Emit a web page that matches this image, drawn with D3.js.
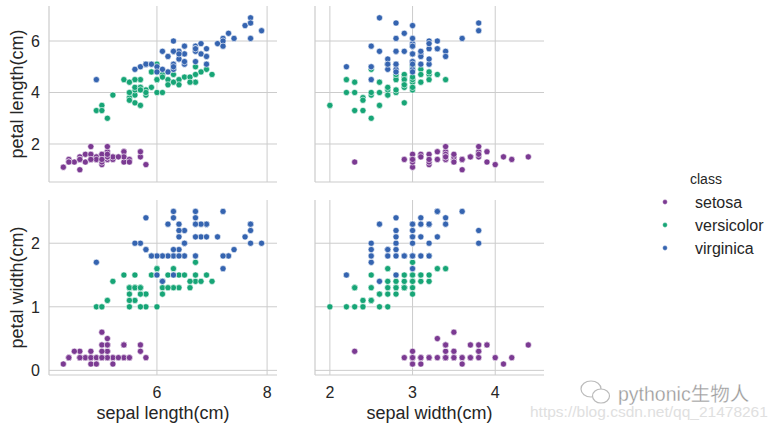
<!DOCTYPE html>
<html>
<head>
<meta charset="utf-8">
<script src="https://cdn.jsdelivr.net/npm/d3@7"></script>
<style>
html,body{margin:0;padding:0;background:#fff;}
svg{display:block;font-family:"Liberation Sans",Arial,sans-serif;}
</style>
</head>
<body>
<svg id="chart" width="780" height="429"></svg>
<script>
// ---- DATA (iris) ----
const classNames = ["setosa", "versicolor", "virginica"];
const classColors = ["#7b3a92", "#17a576", "#3564b0"];

const setosaSepalLength = [5.1,4.9,4.7,4.6,5.0,5.4,4.6,5.0,4.4,4.9,5.4,4.8,4.8,4.3,5.8,5.7,5.4,5.1,5.7,5.1,5.4,5.1,4.6,5.1,4.8,5.0,5.0,5.2,5.2,4.7,4.8,5.4,5.2,5.5,4.9,5.0,5.5,4.9,4.4,5.1,5.0,4.5,4.4,5.0,5.1,4.8,5.1,4.6,5.3,5.0];
const setosaSepalWidth  = [3.5,3.0,3.2,3.1,3.6,3.9,3.4,3.4,2.9,3.1,3.7,3.4,3.0,3.0,4.0,4.4,3.9,3.5,3.8,3.8,3.4,3.7,3.6,3.3,3.4,3.0,3.4,3.5,3.4,3.2,3.1,3.4,4.1,4.2,3.1,3.2,3.5,3.6,3.0,3.4,3.5,2.3,3.2,3.5,3.8,3.0,3.8,3.2,3.7,3.3];
const setosaPetalLength = [1.4,1.4,1.3,1.5,1.4,1.7,1.4,1.5,1.4,1.5,1.5,1.6,1.4,1.1,1.2,1.5,1.3,1.4,1.7,1.5,1.7,1.5,1.0,1.7,1.9,1.6,1.6,1.5,1.4,1.6,1.6,1.5,1.5,1.4,1.5,1.2,1.3,1.4,1.3,1.5,1.3,1.3,1.3,1.6,1.9,1.4,1.6,1.4,1.5,1.4];
const setosaPetalWidth  = [0.2,0.2,0.2,0.2,0.2,0.4,0.3,0.2,0.2,0.1,0.2,0.2,0.1,0.1,0.2,0.4,0.4,0.3,0.3,0.3,0.2,0.4,0.2,0.5,0.2,0.2,0.4,0.2,0.2,0.2,0.2,0.4,0.1,0.2,0.2,0.2,0.2,0.1,0.2,0.2,0.3,0.3,0.2,0.6,0.4,0.3,0.2,0.2,0.2,0.2];

const versicolorSepalLength = [7.0,6.4,6.9,5.5,6.5,5.7,6.3,4.9,6.6,5.2,5.0,5.9,6.0,6.1,5.6,6.7,5.6,5.8,6.2,5.6,5.9,6.1,6.3,6.1,6.4,6.6,6.8,6.7,6.0,5.7,5.5,5.5,5.8,6.0,5.4,6.0,6.7,6.3,5.6,5.5,5.5,6.1,5.8,5.0,5.6,5.7,5.7,6.2,5.1,5.7];
const versicolorSepalWidth  = [3.2,3.2,3.1,2.3,2.8,2.8,3.3,2.4,2.9,2.7,2.0,3.0,2.2,2.9,2.9,3.1,3.0,2.7,2.2,2.5,3.2,2.8,2.5,2.8,2.9,3.0,2.8,3.0,2.9,2.6,2.4,2.4,2.7,2.7,3.0,3.4,3.1,2.3,3.0,2.5,2.6,3.0,2.6,2.3,2.7,3.0,2.9,2.9,2.5,2.8];
const versicolorPetalLength = [4.7,4.5,4.9,4.0,4.6,4.5,4.7,3.3,4.6,3.9,3.5,4.2,4.0,4.7,3.6,4.4,4.5,4.1,4.5,3.9,4.8,4.0,4.9,4.7,4.3,4.4,4.8,5.0,4.5,3.5,3.8,3.7,3.9,5.1,4.5,4.5,4.7,4.4,4.1,4.0,4.4,4.6,4.0,3.3,4.2,4.2,4.2,4.3,3.0,4.1];
const versicolorPetalWidth  = [1.4,1.5,1.5,1.3,1.5,1.3,1.6,1.0,1.3,1.4,1.0,1.5,1.0,1.4,1.3,1.4,1.5,1.0,1.5,1.1,1.8,1.3,1.5,1.2,1.3,1.4,1.4,1.7,1.5,1.0,1.1,1.0,1.2,1.6,1.5,1.6,1.5,1.3,1.3,1.3,1.2,1.4,1.2,1.0,1.3,1.2,1.3,1.3,1.1,1.3];

const virginicaSepalLength = [6.3,5.8,7.1,6.3,6.5,7.6,4.9,7.3,6.7,7.2,6.5,6.4,6.8,5.7,5.8,6.4,6.5,7.7,7.7,6.0,6.9,5.6,7.7,6.3,6.7,7.2,6.2,6.1,6.4,7.2,7.4,7.9,6.4,6.3,6.1,7.7,6.3,6.4,6.0,6.9,6.7,6.9,5.8,6.8,6.7,6.7,6.3,6.5,6.2,5.9];
const virginicaSepalWidth  = [3.3,2.7,3.0,2.9,3.0,3.0,2.5,2.9,2.5,3.6,3.2,2.7,3.0,2.5,2.8,3.2,3.0,3.8,2.6,2.2,3.2,2.8,2.8,2.7,3.3,3.2,2.8,3.0,2.8,3.0,2.8,3.8,2.8,2.8,2.6,3.0,3.4,3.1,3.0,3.1,3.1,3.1,2.7,3.2,3.3,3.0,2.5,3.0,3.4,3.0];
const virginicaPetalLength = [6.0,5.1,5.9,5.6,5.8,6.6,4.5,6.3,5.8,6.1,5.1,5.3,5.5,5.0,5.1,5.3,5.5,6.7,6.9,5.0,5.7,4.9,6.7,4.9,5.7,6.0,4.8,4.9,5.6,5.8,6.1,6.4,5.6,5.1,5.6,6.1,5.6,5.5,4.8,5.4,5.6,5.1,5.1,5.9,5.7,5.2,5.0,5.2,5.4,5.1];
const virginicaPetalWidth  = [2.5,1.9,2.1,1.8,2.2,2.1,1.7,1.8,1.8,2.5,2.0,1.9,2.1,2.0,2.4,2.3,1.8,2.2,2.3,1.5,2.3,2.0,2.0,1.8,2.1,1.8,1.8,1.8,2.1,1.6,1.9,2.0,2.2,1.5,1.4,2.3,2.4,1.8,1.8,2.1,2.4,2.3,1.9,2.3,2.5,2.3,1.9,2.0,2.3,1.8];

const xVarLabels = ["sepal length(cm)", "sepal width(cm)"];
const yVarLabels = ["petal length(cm)", "petal width(cm)"];
const xTickValues = [[6, 8], [2, 3, 4]];
const yTickValues = [[2, 4, 6], [0, 1, 2]];

// ---- build rows ----
const byClass = [
  {sl: setosaSepalLength, sw: setosaSepalWidth, pl: setosaPetalLength, pw: setosaPetalWidth},
  {sl: versicolorSepalLength, sw: versicolorSepalWidth, pl: versicolorPetalLength, pw: versicolorPetalWidth},
  {sl: virginicaSepalLength, sw: virginicaSepalWidth, pl: virginicaPetalLength, pw: virginicaPetalWidth}
];
const rows = [];
byClass.forEach((c, ci) => {
  c.sl.forEach((v, i) => rows.push({cls: ci, sl: v, sw: c.sw[i], pl: c.pl[i], pw: c.pw[i]}));
});
const xKeys = ["sl", "sw"];
const yKeys = ["pl", "pw"];

// ---- layout ----
const colRanges = [[49, 277], [315, 544]];
const rowRanges = [[6, 182], [200, 375]];
const xDomains = [[4.04, 8.18], [1.82, 4.59]];
const yDomains = [[0.524, 7.36], [-0.073, 2.68]];

const svg = d3.select("#chart");
const gridColor = "#cccccc";
const textColor = "#262626";

for (let r = 0; r < 2; r++) {
  for (let c = 0; c < 2; c++) {
    const x = d3.scaleLinear().domain(xDomains[c]).range(colRanges[c]);
    const y = d3.scaleLinear().domain(yDomains[r]).range([rowRanges[r][1], rowRanges[r][0]]);
    const g = svg.append("g");

    // grid
    g.selectAll(".vg").data(xTickValues[c]).enter().append("line")
      .attr("x1", d => x(d)).attr("x2", d => x(d))
      .attr("y1", rowRanges[r][0]).attr("y2", rowRanges[r][1])
      .attr("stroke", gridColor).attr("stroke-width", 1);
    g.selectAll(".hg").data(yTickValues[r]).enter().append("line")
      .attr("x1", colRanges[c][0]).attr("x2", colRanges[c][1])
      .attr("y1", d => y(d)).attr("y2", d => y(d))
      .attr("stroke", gridColor).attr("stroke-width", 1);

    // spines (left, bottom)
    g.append("line").attr("x1", colRanges[c][0]).attr("x2", colRanges[c][0])
      .attr("y1", rowRanges[r][0]).attr("y2", rowRanges[r][1])
      .attr("stroke", gridColor).attr("stroke-width", 1.2);
    g.append("line").attr("x1", colRanges[c][0]).attr("x2", colRanges[c][1])
      .attr("y1", rowRanges[r][1]).attr("y2", rowRanges[r][1])
      .attr("stroke", gridColor).attr("stroke-width", 1.2);

    // points
    g.selectAll("circle").data(rows).enter().append("circle")
      .attr("cx", d => x(d[xKeys[c]]))
      .attr("cy", d => y(d[yKeys[r]]))
      .attr("r", 3.1)
      .attr("fill", d => classColors[d.cls])
      .attr("stroke", "#ffffff").attr("stroke-width", 0.6);

    // tick labels
    if (c === 0) {
      g.selectAll(".yt").data(yTickValues[r]).enter().append("text")
        .attr("x", colRanges[c][0] - 9).attr("y", d => y(d))
        .attr("dy", "0.36em").attr("text-anchor", "end")
        .attr("font-size", 16).attr("fill", textColor)
        .text(d => d);
      const cy = (rowRanges[r][0] + rowRanges[r][1]) / 2;
      g.append("text")
        .attr("transform", `translate(23,${cy}) rotate(-90)`)
        .attr("text-anchor", "middle")
        .attr("font-size", 18).attr("fill", textColor)
        .text(yVarLabels[r]);
    }
    if (r === 1) {
      g.selectAll(".xt").data(xTickValues[c]).enter().append("text")
        .attr("x", d => x(d)).attr("y", rowRanges[r][1] + 23)
        .attr("text-anchor", "middle")
        .attr("font-size", 16).attr("fill", textColor)
        .text(d => d);
      g.append("text")
        .attr("x", (colRanges[c][0] + colRanges[c][1]) / 2)
        .attr("y", 419)
        .attr("text-anchor", "middle")
        .attr("font-size", 18).attr("fill", textColor)
        .text(xVarLabels[c]);
    }
  }
}

// ---- legend ----
const lg = svg.append("g");
lg.append("text").attr("x", 690).attr("y", 184).attr("font-size", 14)
  .attr("fill", textColor).text("class");
classNames.forEach((name, i) => {
  const yy = 202 + i * 23;
  lg.append("circle").attr("cx", 665).attr("cy", yy).attr("r", 2.4)
    .attr("fill", classColors[i]).attr("stroke", "#fff").attr("stroke-width", 0.4);
  lg.append("text").attr("x", 695).attr("y", yy).attr("dy", "0.36em")
    .attr("font-size", 16).attr("fill", textColor).text(name);
});

// ---- watermark ----
const wm = svg.append("g");
wm.append("ellipse").attr("cx", 591).attr("cy", 389).attr("rx", 10).attr("ry", 8)
  .attr("fill", "none").attr("stroke", "#bbbbbb").attr("stroke-width", 1.2);
wm.append("ellipse").attr("cx", 601).attr("cy", 396).attr("rx", 8.5).attr("ry", 7)
  .attr("fill", "#fff").attr("stroke", "#bbbbbb").attr("stroke-width", 1.2);
wm.append("text").attr("x", 618).attr("y", 401)
  .attr("font-family", "'Liberation Sans','Noto Sans CJK SC',sans-serif")
  .attr("font-size", 19.5).attr("fill", "#999999")
  .attr("stroke", "#ffffff").attr("stroke-width", 0.3)
  .text("pythonic生物人");
wm.append("text").attr("x", 530).attr("y", 417)
  .attr("font-size", 15.5).attr("fill", "#e0e0e0")
  .text("https://blog.csdn.net/qq_21478261");
</script>
</body>
</html>
